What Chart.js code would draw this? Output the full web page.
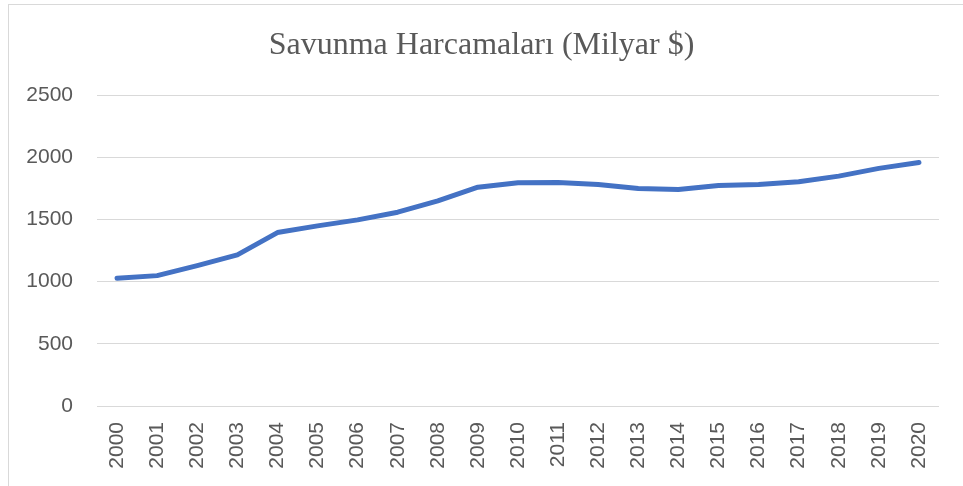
<!DOCTYPE html>
<html>
<head>
<meta charset="utf-8">
<script src="https://cdn.jsdelivr.net/npm/chart.js@4"></script>
<style>
  html, body { margin: 0; padding: 0; background: #fff; overflow: hidden; }
  #wrap { position: relative; width: 963px; height: 486px; }
  #frame { position: absolute; left: 8px; top: 4px; width: 980px; height: 520px;
           border: 1px solid #d9d9d9; pointer-events: none; }
</style>
</head>
<body>
<div id="wrap">
  <canvas id="line-chart" width="963" height="486"></canvas>
  <div id="frame"></div>
</div>
<script>
const years = ['2000', '2001', '2002', '2003', '2004', '2005', '2006', '2007', '2008', '2009', '2010',
  '2011', '2012', '2013', '2014', '2015', '2016', '2017', '2018', '2019', '2020'];
const spending = [1027, 1048, 1129, 1215, 1394, 1448, 1496, 1558, 1649, 1759, 1795,
  1797, 1781, 1749, 1741, 1773, 1781, 1802, 1848, 1910, 1958];
const yTicks = [0, 500, 1000, 1500, 2000, 2500];
const chartTitle = 'Savunma Harcamaları (Milyar $)';

const tickFont = { family: '"Liberation Sans", Arial, sans-serif', size: 21 };

const config = {
  type: 'line',
  data: {
    labels: years,
    datasets: [{
      label: chartTitle,
      data: spending,
      borderColor: '#4472C4',
      backgroundColor: '#4472C4',
      borderWidth: 5,
      borderCapStyle: 'round',
      borderJoinStyle: 'round',
      pointRadius: 0,
      tension: 0,
    }],
  },
  options: {
    responsive: false,
    animation: false,
    layout: { padding: 0 },
    plugins: {
      legend: { display: false },
      tooltip: { enabled: false },
      title: {
        display: true,
        text: chartTitle,
        color: '#595959',
        font: { family: '"Liberation Serif", "Times New Roman", serif', size: 32, weight: 'normal' },
        padding: { top: 26, bottom: 30.6 },
      },
    },
    scales: {
      x: {
        offset: true,
        grid: { display: false, drawTicks: false },
        border: { display: false },
        ticks: {
          color: '#595959',
          font: tickFont,
          minRotation: 90,
          maxRotation: 90,
          padding: 16,
          autoSkip: false,
        },
        afterFit: (scale) => { scale.height = 80; },
      },
      y: {
        min: 0,
        max: 2500,
        afterBuildTicks: (scale) => { scale.ticks = yTicks.map(v => ({ value: v })); },
        grid: { color: '#d9d9d9', lineWidth: 1, drawTicks: false },
        border: { display: false },
        ticks: {
          color: '#595959',
          font: tickFont,
          padding: 24,
          callback: (v) => String(v),
        },
        afterFit: (scale) => { scale.width = 97; },
      },
      // empty right-hand strip so the plot ends where the reference does
      yRight: {
        position: 'right',
        display: true,
        grid: { display: false, drawTicks: false },
        border: { display: false },
        ticks: { display: false },
        afterFit: (scale) => { scale.width = 24; },
      },
    },
  },
};

const canvas = document.getElementById('line-chart');
if (canvas) {
  const ctx = canvas.getContext('2d');
  window.myLine = new Chart(ctx, config);
}
</script>
</body>
</html>
